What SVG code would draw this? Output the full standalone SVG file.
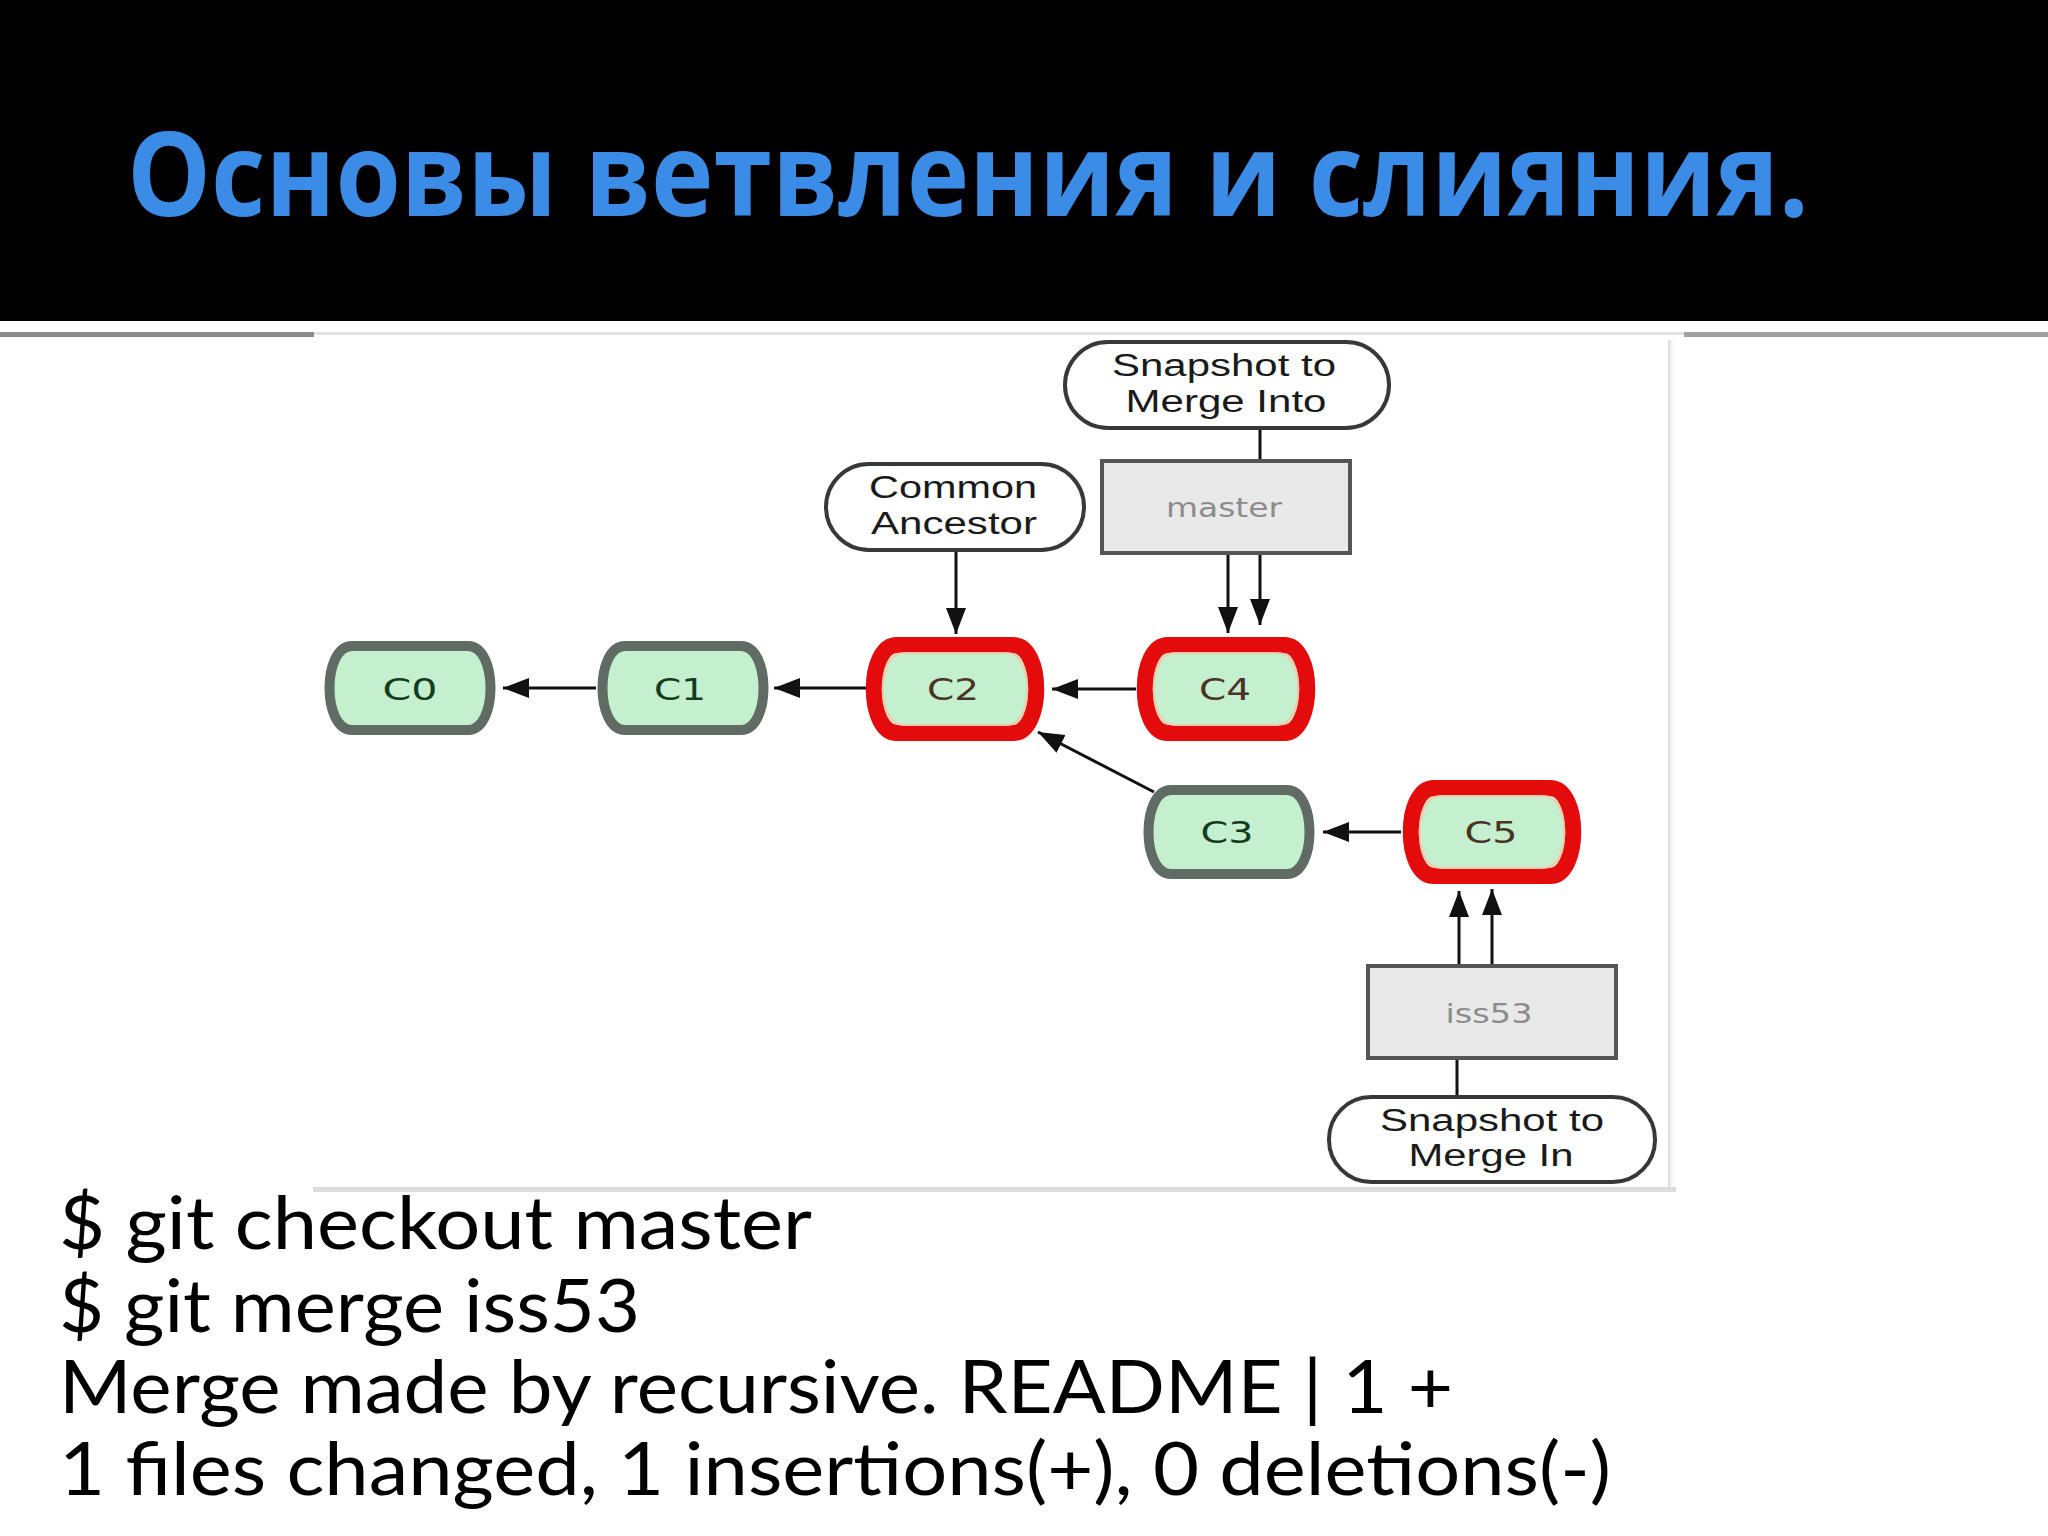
<svg xmlns="http://www.w3.org/2000/svg" width="2048" height="1536" viewBox="0 0 2048 1536">
<style>
.title{font-family:"Open Sans","Noto Sans","DejaVu Sans",sans-serif;font-weight:700;font-size:116px;fill:#3b8ce6}
.body{font-family:Lato,"Open Sans","Liberation Sans",sans-serif;font-size:74px;fill:#000}
.lbl{font-family:"Liberation Sans",Arial,sans-serif;font-size:31px;fill:#1a1a1a;text-anchor:middle}
.cid{font-family:"DejaVu Sans",sans-serif;font-size:30px;text-anchor:middle}
.cg{fill:#143c1e}
.cr{fill:#4a3424}
.br{font-family:"DejaVu Sans",sans-serif;font-size:26px;fill:#8c8c8c;text-anchor:middle}
.ng{fill:#c4f0d0;stroke:#5f6b63;stroke-width:10}
.nr{fill:#c4f0d0;stroke:#e30b0b;stroke-width:16}
.ni{fill:none;stroke:#f7c8a8;stroke-width:2}
.call{fill:#fff;stroke:#383838;stroke-width:4}
.box{fill:#e9e9e9;stroke:#555;stroke-width:4}
.ln{stroke:#111;stroke-width:3;fill:none}
.ar{stroke:#111;stroke-width:3;fill:none;marker-end:url(#ah)}
</style>
<defs>
<path id="commit" d="M-58,-42 H58 C88,-42 88,42 58,42 H-58 C-88,42 -88,-42 -58,-42 Z"/>
<path id="commitR" d="M-58,-44 H58 C89,-44 89,44 58,44 H-58 C-89,44 -89,-44 -58,-44 Z"/>
<path id="commitIn" d="M-52,-36 H52 C79,-36 79,36 52,36 H-52 C-79,36 -79,-36 -52,-36 Z"/>
<marker id="ah" markerUnits="userSpaceOnUse" markerWidth="28" markerHeight="22" refX="26" refY="11" orient="auto">
<path d="M0,1 L26,11 L0,21 Z" fill="#111"/>
</marker>
<linearGradient id="sh" x1="0" y1="0" x2="1" y2="0">
<stop offset="0" stop-color="#d8d8d8"/><stop offset="1" stop-color="#fff" stop-opacity="0"/>
</linearGradient>
</defs>

<!-- header -->
<rect x="0" y="0" width="2048" height="321" fill="#000"/>
<text class="title" x="127" y="216" textLength="1682" lengthAdjust="spacingAndGlyphs">Основы ветвления и слияния.</text>
<rect x="0" y="332" width="2048" height="3" fill="#e2e2e2"/>
<rect x="0" y="332" width="314" height="5" fill="#8a8a8a"/>
<rect x="1684" y="332" width="364" height="5" fill="#a0a0a0"/>

<!-- picture frame shadow -->
<rect x="1668" y="340" width="8" height="850" fill="url(#sh)"/>
<rect x="313" y="1187" width="1363" height="5" fill="#dcdcdc"/>

<!-- connectors -->
<g id="connectors">
<line class="ar" x1="596" y1="688" x2="503" y2="688"/>
<line class="ar" x1="866" y1="688" x2="774" y2="688"/>
<line class="ar" x1="1136" y1="689" x2="1052" y2="689"/>
<line class="ar" x1="1401" y1="832" x2="1323" y2="832"/>
<line class="ar" x1="1154" y1="792" x2="1038" y2="732"/>
<line class="ar" x1="956" y1="552" x2="956" y2="634"/>
<line class="ar" x1="1228" y1="554" x2="1228" y2="633"/>
<line class="ar" x1="1260" y1="554" x2="1260" y2="625"/>
<line class="ar" x1="1459" y1="966" x2="1459" y2="891"/>
<line class="ar" x1="1492" y1="966" x2="1492" y2="889"/>
<line class="ln" x1="1260" y1="430" x2="1260" y2="461"/>
<line class="ln" x1="1457" y1="1058" x2="1457" y2="1097"/>
</g>

<!-- commits -->
<g id="C0"><use href="#commit" class="ng" transform="translate(410,688)"/><text class="cid cg" x="410" y="700" textLength="55" lengthAdjust="spacingAndGlyphs">C0</text></g>
<g id="C1"><use href="#commit" class="ng" transform="translate(683,688)"/><text class="cid cg" x="680" y="700" textLength="52" lengthAdjust="spacingAndGlyphs">C1</text></g>
<g id="C2"><use href="#commitR" class="nr" transform="translate(955,689)"/><use href="#commitIn" class="ni" transform="translate(955,689)"/><text class="cid cr" x="953" y="700" textLength="52" lengthAdjust="spacingAndGlyphs">C2</text></g>
<g id="C4"><use href="#commitR" class="nr" transform="translate(1226,689)"/><use href="#commitIn" class="ni" transform="translate(1226,689)"/><text class="cid cr" x="1225" y="700" textLength="52" lengthAdjust="spacingAndGlyphs">C4</text></g>
<g id="C3"><use href="#commit" class="ng" transform="translate(1229,832)"/><text class="cid cg" x="1227" y="843" textLength="53" lengthAdjust="spacingAndGlyphs">C3</text></g>
<g id="C5"><use href="#commitR" class="nr" transform="translate(1492,832)"/><use href="#commitIn" class="ni" transform="translate(1492,832)"/><text class="cid cr" x="1491" y="843" textLength="53" lengthAdjust="spacingAndGlyphs">C5</text></g>

<!-- callouts -->
<g id="common-ancestor"><rect class="call" x="826" y="464" width="258" height="86" rx="43"/>
<text class="lbl" x="953" y="498" textLength="168" lengthAdjust="spacingAndGlyphs">Common</text>
<text class="lbl" x="954" y="534" textLength="166" lengthAdjust="spacingAndGlyphs">Ancestor</text></g>
<g id="snapshot-into"><rect class="call" x="1065" y="342" width="324" height="86" rx="43"/>
<text class="lbl" x="1224" y="376" textLength="224" lengthAdjust="spacingAndGlyphs">Snapshot to</text>
<text class="lbl" x="1226" y="412" textLength="201" lengthAdjust="spacingAndGlyphs">Merge Into</text></g>
<g id="snapshot-in"><rect class="call" x="1329" y="1097" width="326" height="85" rx="42"/>
<text class="lbl" x="1492" y="1131" textLength="224" lengthAdjust="spacingAndGlyphs">Snapshot to</text>
<text class="lbl" x="1491" y="1166" textLength="165" lengthAdjust="spacingAndGlyphs">Merge In</text></g>

<!-- branches -->
<g id="master"><rect class="box" x="1102" y="461" width="248" height="92"/>
<text class="br" x="1224" y="517" textLength="116" lengthAdjust="spacingAndGlyphs">master</text></g>
<g id="iss53"><rect class="box" x="1368" y="966" width="248" height="92"/>
<text class="br" x="1489" y="1023" textLength="87" lengthAdjust="spacingAndGlyphs">iss53</text></g>

<!-- commands -->
<g id="commands">
<text class="body" x="59" y="1249" textLength="753" lengthAdjust="spacingAndGlyphs">$ git checkout master</text>
<text class="body" x="59" y="1332" textLength="581" lengthAdjust="spacingAndGlyphs">$ git merge iss53</text>
<text class="body" x="59" y="1413" textLength="1394" lengthAdjust="spacingAndGlyphs">Merge made by recursive. README | 1 +</text>
<text class="body" x="59" y="1495" textLength="1552" lengthAdjust="spacingAndGlyphs">1 files changed, 1 insertions(+), 0 deletions(-)</text>
</g>
</svg>
